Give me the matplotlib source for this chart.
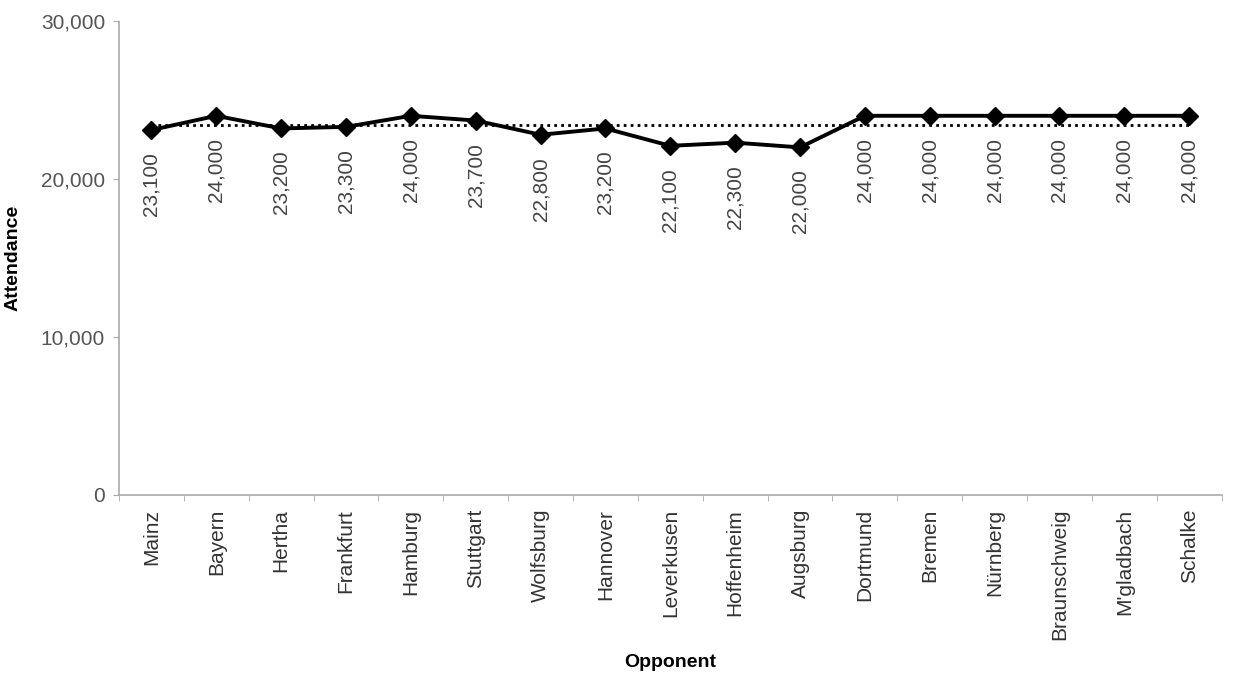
import matplotlib
matplotlib.use("Agg")
import matplotlib.pyplot as plt
import numpy as np
from matplotlib.ticker import FuncFormatter

opponents = ["Mainz", "Bayern", "Hertha", "Frankfurt", "Hamburg", "Stuttgart",
             "Wolfsburg", "Hannover", "Leverkusen", "Hoffenheim", "Augsburg",
             "Dortmund", "Bremen", "Nürnberg", "Braunschweig", "M'gladbach", "Schalke"]
attendance = [23100, 24000, 23200, 23300, 24000, 23700, 22800, 23200, 22100,
              22300, 22000, 24000, 24000, 24000, 24000, 24000, 24000]
y_ticks = [0, 10000, 20000, 30000]

plt.rcParams["font.family"] = ["Liberation Sans", "DejaVu Sans"]


def thousands(v, _pos=None):
    return f"{int(v):,}"


def main() -> None:
    fig = plt.figure(figsize=(12.34, 6.78), dpi=100, facecolor="white")
    ax = fig.add_axes((0.0964, 0.270, 0.8936, 0.699))

    x = np.arange(len(opponents))
    avg = np.mean(attendance)

    # average line (dotted) behind the series
    ax.plot([x[0], x[-1]], [avg, avg], color="black", linestyle=(0, (1, 1.5)),
            linewidth=2, zorder=2)
    ax.plot(x, attendance, color="black", linewidth=2.8, marker="D",
            markersize=9, zorder=3)

    for xi, v in zip(x, attendance):
        ax.annotate(thousands(v), (xi, v), xytext=(0, -16), textcoords="offset points",
                    rotation=90, ha="center", va="top", fontsize=15, color="#444444")

    ax.set_xlim(-0.5, len(opponents) - 0.5)
    ax.set_ylim(0, 30000)
    ax.set_yticks(y_ticks)
    ax.yaxis.set_major_formatter(FuncFormatter(thousands))
    ax.set_xticks(x)
    ax.set_xticklabels(opponents, rotation=90, fontsize=15, color="#333333")
    ax.set_xticks(np.arange(len(opponents) + 1) - 0.5, minor=True)
    ax.tick_params(axis="x", which="major", length=0, pad=10)
    ax.tick_params(axis="x", which="minor", length=4, color="#aaaaaa", direction="out")
    ax.tick_params(axis="y", length=4, color="#aaaaaa", labelsize=15,
                   labelcolor="#555555", pad=6)

    for side in ("top", "right"):
        ax.spines[side].set_visible(False)
    for side in ("left", "bottom"):
        ax.spines[side].set_color("#aaaaaa")
        ax.spines[side].set_linewidth(1.2)
        ax.spines[side].set_linestyle((0, (2, 1)))

    ax.set_ylabel("Attendance", fontsize=14, fontweight="bold")
    ax.yaxis.set_label_coords(-0.088, 0.5)
    ax.set_xlabel("Opponent", fontsize=14, fontweight="bold", labelpad=10)

    fig.savefig("out.png", dpi=100, facecolor="white")
    plt.close(fig)


if __name__ == "__main__":
    main()
